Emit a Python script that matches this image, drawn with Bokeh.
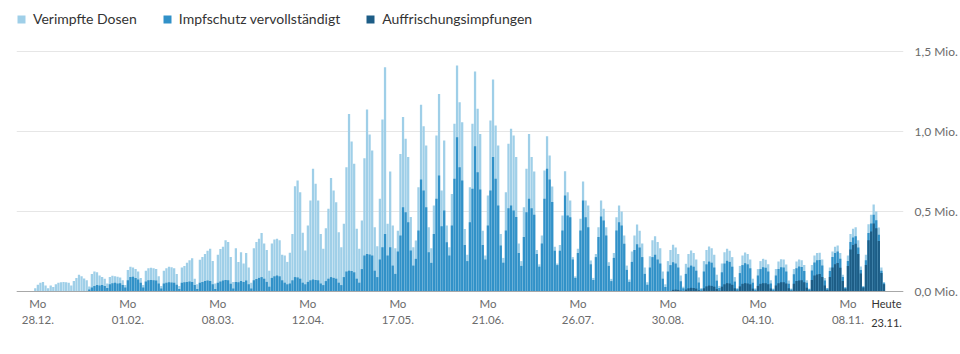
import datetime as dt
from bokeh.plotting import figure
from bokeh.models import Range1d, FixedTicker, Legend, LegendItem, Label, Span, ColumnDataSource
from bokeh.embed import file_html
from bokeh.resources import INLINE

# ---------------- data (daily values, thousands) ----------------
FIRST_DAY = dt.date(2020, 12, 27)   # first bar
REF_DAY = dt.date(2020, 12, 28)     # "Mo 28.12." = day 0

# Verimpfte Dosen (one row per week, Mon..Sun; first value = Sun 27.12.)
doses = [20,
    42, 55, 60, 38, 20, 38, 28,
    45, 55, 58, 60, 58, 55, 38,
    65, 85, 104, 95, 82, 70, 32,
    110, 125, 120, 100, 90, 80, 50,
    90, 98, 95, 92, 88, 70, 40,
    135, 155, 150, 140, 125, 85, 40,
    130, 145, 148, 145, 140, 95, 35,
    130, 145, 155, 152, 145, 110, 35,
    150, 160, 180, 195, 208, 80, 45,
    198, 215, 235, 255, 267, 190, 50,
    230, 265, 280, 320, 310, 215, 60,
    270, 185, 245, 175, 240, 150, 55,
    270, 310, 330, 365, 300, 260, 130,
    300, 325, 330, 320, 230, 225, 185,
    242, 360, 658, 694, 621, 367, 256,
    412, 569, 767, 673, 569, 360, 267,
    396, 517, 710, 631, 558, 371, 277,
    423, 777, 1110, 937, 798, 392, 267,
    444, 833, 1137, 981, 881, 402, 283,
    579, 1075, 1402, 423, 750, 412, 270,
    380, 860, 1090, 954, 840, 465, 277,
    319, 652, 1167, 1033, 912, 402, 271,
    537, 975, 1235, 631, 944, 412, 277,
    610, 1048, 1412, 1183, 1058, 390, 230,
    652, 1048, 1375, 1142, 985, 380, 225,
    600, 1069, 1325, 1037, 912, 360, 210,
    621, 923, 1017, 975, 840, 300, 190,
    527, 767, 985, 840, 750, 260, 170,
    350, 756, 971, 850, 656, 280, 175,
    290, 475, 752, 621, 569, 215, 95,
    267, 454, 687, 569, 537, 194, 85,
    235, 402, 569, 517, 402, 183, 79,
    240, 464, 537, 500, 350, 162, 75,
    250, 350, 419, 380, 300, 150, 58,
    220, 320, 345, 310, 270, 125, 45,
    190, 260, 292, 275, 235, 100, 30,
    173, 235, 256, 240, 200, 88, 22,
    190, 260, 281, 270, 230, 105, 35,
    175, 245, 267, 255, 215, 90, 22,
    160, 225, 244, 235, 200, 80, 20,
    140, 190, 204, 198, 170, 70, 18,
    140, 188, 202, 200, 168, 68, 18,
    140, 188, 200, 196, 165, 70, 18,
    165, 225, 240, 242, 200, 85, 22,
    150, 250, 280, 287, 240, 105, 28,
    225, 360, 392, 402, 320, 156, 35,
    230, 420, 480, 544, 500, 400, 150,
    60]

# Impfschutz vervollständigt
full = [0,
    0, 0, 0, 0, 0, 0, 0,
    0, 0, 0, 0, 0, 0, 0,
    0, 0, 0, 0, 0, 0, 12,
    25, 35, 40, 38, 40, 35, 22,
    45, 52, 55, 50, 52, 40, 25,
    70, 90, 92, 85, 75, 55, 25,
    62, 70, 72, 70, 68, 50, 18,
    50, 55, 58, 56, 55, 42, 15,
    55, 58, 60, 62, 60, 40, 15,
    55, 60, 65, 68, 65, 45, 15,
    55, 62, 68, 72, 70, 48, 18,
    60, 58, 65, 60, 68, 45, 18,
    70, 78, 85, 90, 80, 60, 30,
    85, 95, 100, 95, 70, 55, 45,
    50, 70, 90, 88, 80, 55, 45,
    60, 70, 75, 72, 70, 50, 40,
    65, 80, 90, 85, 80, 55, 40,
    90, 125, 130, 128, 120, 80, 55,
    140, 225, 235, 232, 225, 130, 90,
    200, 277, 360, 225, 277, 162, 110,
    250, 350, 527, 496, 433, 256, 162,
    204, 381, 700, 631, 527, 246, 179,
    360, 579, 725, 408, 506, 308, 225,
    412, 704, 964, 777, 694, 290, 190,
    433, 642, 908, 746, 637, 290, 200,
    412, 631, 840, 704, 537, 287, 180,
    381, 520, 537, 506, 465, 240, 160,
    340, 496, 579, 520, 480, 235, 155,
    300, 579, 767, 700, 560, 255, 165,
    255, 381, 600, 475, 464, 200, 85,
    240, 381, 569, 464, 402, 170, 72,
    215, 340, 469, 444, 350, 160, 65,
    210, 381, 433, 412, 298, 135, 60,
    185, 260, 295, 275, 215, 110, 42,
    150, 215, 230, 200, 175, 80, 28,
    125, 165, 183, 175, 150, 64, 20,
    110, 150, 162, 155, 130, 56, 14,
    125, 170, 187, 180, 150, 68, 22,
    120, 175, 192, 185, 155, 62, 15,
    115, 165, 177, 170, 145, 55, 12,
    100, 140, 152, 148, 125, 50, 12,
    100, 140, 152, 150, 125, 48, 12,
    108, 146, 156, 153, 128, 54, 14,
    132, 182, 195, 197, 162, 68, 18,
    128, 215, 240, 250, 205, 90, 24,
    190, 310, 338, 346, 275, 134, 30,
    195, 365, 425, 480, 445, 355, 130,
    52]

# Auffrischungsimpfungen
booster = [0] + [0] * (35 * 7) + [
    0, 2, 10, 12, 10, 5, 2,
    12, 20, 23, 22, 18, 8, 3,
    20, 32, 37, 35, 30, 15, 5,
    30, 45, 52, 50, 42, 20, 5,
    32, 48, 52, 50, 45, 18, 4,
    35, 48, 52, 52, 45, 18, 4,
    38, 52, 58, 58, 50, 20, 5,
    48, 65, 69, 70, 58, 24, 6,
    72, 100, 106, 110, 90, 38, 10,
    90, 150, 170, 178, 148, 65, 17,
    160, 262, 290, 298, 235, 112, 25,
    165, 320, 375, 425, 395, 315, 115,
    45]

SERIES = ["Verimpfte Dosen", "Impfschutz vervollständigt", "Auffrischungsimpfungen"]
COLORS = ["#9fcfe8", "#3191c8", "#1d5d86"]

TICK_DATES = [dt.date(2020, 12, 28), dt.date(2021, 2, 1), dt.date(2021, 3, 8),
              dt.date(2021, 4, 12), dt.date(2021, 5, 17), dt.date(2021, 6, 21),
              dt.date(2021, 7, 26), dt.date(2021, 8, 30), dt.date(2021, 10, 4),
              dt.date(2021, 11, 8)]
TICK_WEEKDAY = "Mo"
TODAY = dt.date(2021, 11, 23)
TODAY_WORD = "Heute"

Y_TICKS = [0, 500000, 1000000, 1500000]
Y_LABELS = ["0,0 Mio.", "0,5 Mio.", "1,0 Mio.", "1,5 Mio."]

FONT = "Lato"

# ---------------- build ----------------
offset = (FIRST_DAY - REF_DAY).days
days = [offset + i for i in range(len(doses))]
src = ColumnDataSource(dict(
    x=days,
    v=[d * 1000 for d in doses],
    z=[d * 1000 for d in full],
    b=[d * 1000 for d in booster],
))

PX = 6250  # value per pixel
p = figure(width=960, height=354,
           x_range=Range1d(-8.3, 336.6), y_range=Range1d(-63 * PX, 283 * PX),
           y_axis_location="right", x_axis_location="below",
           output_backend="svg", toolbar_location=None,
           min_border_left=16, min_border_right=53,
           min_border_top=8, min_border_bottom=0)
p.outline_line_color = None
p.xgrid.visible = False
p.ygrid.ticker = FixedTicker(ticks=Y_TICKS)
p.ygrid.grid_line_color = "#e6e6e6"

w = 0.88
r1 = p.vbar(x="x", top="v", width=w, source=src, fill_color=COLORS[0], line_color=None)
r2 = p.vbar(x="x", top="z", width=w, source=src, fill_color=COLORS[1], line_color=None)
r3 = p.vbar(x="x", top="b", width=w, source=src, fill_color=COLORS[2], line_color=None)

p.add_layout(Span(location=0, dimension="width", line_color="#a8a8a8", line_width=1))

# y axis (right)
ya = p.yaxis[0]
ya.ticker = FixedTicker(ticks=Y_TICKS)
ya.major_label_overrides = {t: l for t, l in zip(Y_TICKS, Y_LABELS)}
ya.axis_line_color = None
ya.major_tick_line_color = None
ya.minor_tick_line_color = None
ya.major_label_standoff = 5
ya.major_label_text_font = FONT
ya.major_label_text_font_size = "12px"
ya.major_label_text_color = "#6b6b6b"

# x axis, drawn along the zero line
xticks = [(d - REF_DAY).days for d in TICK_DATES]
xa = p.xaxis[0]
xa.fixed_location = 0
xa.ticker = FixedTicker(ticks=xticks)
xa.major_label_overrides = {t: f"{TICK_WEEKDAY}\n{d.strftime('%d.%m.')}" for t, d in zip(xticks, TICK_DATES)}
xa.axis_line_color = None
xa.major_tick_line_color = None
xa.minor_tick_line_color = None
xa.major_label_standoff = -1
xa.major_label_text_font = FONT
xa.major_label_text_font_size = "11.5px"
xa.major_label_text_color = "#6b6b6b"
xa.major_label_text_line_height = 1.25

tx = (TODAY - REF_DAY).days
p.add_layout(Label(x=tx, y=-12 * PX, text=TODAY_WORD,
                   text_align="center", text_baseline="middle", text_font=FONT,
                   text_font_size="11px", text_color="#333333"))
p.add_layout(Label(x=tx, y=-31 * PX, text=TODAY.strftime("%d.%m."),
                   text_align="center", text_baseline="middle", text_font=FONT,
                   text_font_size="11px", text_color="#333333"))

legend = Legend(items=[LegendItem(label=SERIES[0], renderers=[r1]),
                       LegendItem(label=SERIES[1], renderers=[r2]),
                       LegendItem(label=SERIES[2], renderers=[r3])],
                orientation="horizontal", location=(0, 327))
legend.glyph_width = 10
legend.glyph_height = 10
legend.label_standoff = 7
legend.spacing = 25
legend.padding = 0
legend.margin = 0
legend.border_line_color = None
legend.background_fill_alpha = 0
legend.label_text_font = FONT
legend.label_text_font_size = "14px"
legend.label_text_color = "#333333"
p.add_layout(legend)

open("out.html", "w").write(file_html(p, INLINE))
